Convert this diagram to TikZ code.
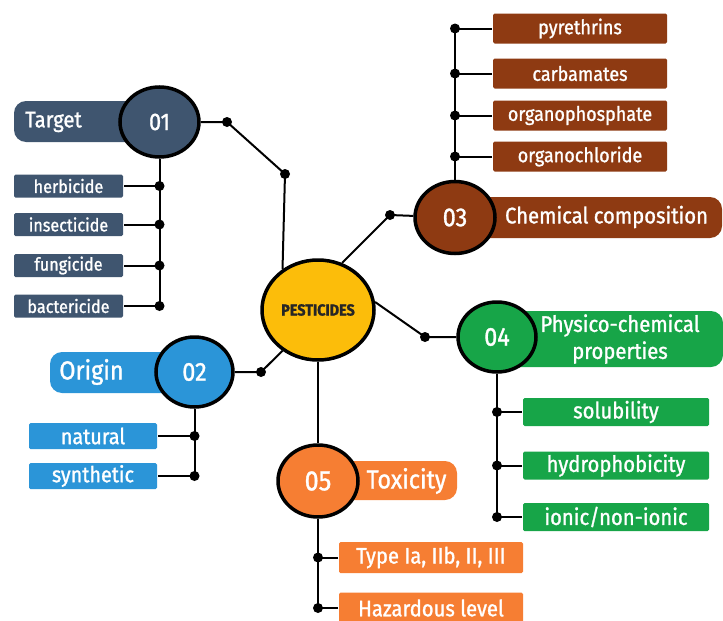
\documentclass[tikz,border=0pt]{standalone}
\usepackage{fontspec}
\setmainfont{Fira Sans}[FakeStretch=0.9, FakeBold=1.2]
\usetikzlibrary{
  shapes.geometric
  , calc
}

\definecolor{slate}{HTML}{3F556F}
\definecolor{skyblue}{HTML}{2B95D8}
\definecolor{rust}{HTML}{8E3A12}
\definecolor{leaf}{HTML}{17A548}
\definecolor{tangerine}{HTML}{F67E33}
\definecolor{gold}{HTML}{FCBD0A}

\begin{document}
\begin{tikzpicture}[
    x=1pt, y=-1pt,
    line width=2pt,
    hub/.style={ellipse, draw=black, line width=3.5pt, inner sep=0pt,
      text=white, font=\fontsize{26}{26}\selectfont},
    tag/.style={rectangle, rounded corners=12pt, inner sep=0pt},
    tag text/.style={text=white, font=\fontsize{22.5}{27}\selectfont, align=center},
    item box/.style={rectangle, rounded corners=1.5pt, inner sep=0pt,
      text=white, font=\fontsize{18}{18}\selectfont}
  ]
  \newcommand\hangItem[5]{
    \node [#2] (#1) at (#3) {#4};
    \coordinate (#1_dot) at (#5 |- #1);
    \draw (#1) -- (#1_dot);
    \fill (#1_dot) circle (5);
  };

  \useasboundingbox (0,0) rectangle (723,621);

  \tikzstyle{target item}=[item box, fill=slate, minimum width=109pt, minimum height=23pt]
  \tikzstyle{origin item}=[item box, fill=skyblue, minimum width=128pt, minimum height=26pt,
    font=\fontsize{22}{22}\selectfont]
  \tikzstyle{chem item}=[item box, fill=rust, minimum width=174pt, minimum height=30pt,
    font=\fontsize{20}{20}\selectfont]
  \tikzstyle{phys item}=[item box, fill=leaf, minimum width=186pt, minimum height=28pt,
    font=\fontsize{22.5}{22.5}\selectfont]
  \tikzstyle{tox item}=[item box, fill=tangerine, minimum width=184pt, minimum height=31pt,
    font=\fontsize{22.5}{22.5}\selectfont]

  % tags behind the numbered discs
  \node [tag, fill=slate, minimum width=146pt, minimum height=41pt] (target_tag) at (87,121.5) {};
  \node [tag, fill=skyblue, minimum width=145pt, minimum height=41pt] (origin_tag) at (122.5,372.5) {};
  \node [tag, fill=rust, minimum width=267pt, minimum height=41pt] (chem_tag) at (588.5,217.5) {};
  \node [tag, fill=leaf, minimum width=227pt, minimum height=56pt] (phys_tag) at (609.5,339) {};
  \node [tag, fill=tangerine, minimum width=140pt, minimum height=39pt] (tox_tag) at (387,480.5) {};

  \node [tag text] (target_text) at (53.5,122) {Target};
  \node [tag text, font=\fontsize{26}{26}\selectfont] (origin_text) at (91.5,372) {Origin};
  \node [tag text] (chem_text) at (606.5,217) {Chemical composition};
  \node [tag text] (phys_text) at (620,339) {Physico-chemical\\properties};
  \node [tag text, font=\fontsize{26}{26}\selectfont] (tox_text) at (406.5,481) {Toxicity};

  % discs
  \node [hub, fill=gold, minimum width=112pt, minimum height=100pt, text=black!85,
    font=\bfseries\fontsize{16}{16}\selectfont] (pest) at (318,310) {PESTICIDES};
  \node [hub, fill=slate, minimum width=79pt, minimum height=70pt,
    font=\fontsize{24}{24}\selectfont] (target_num) at (159.5,122) {01};
  \node [hub, fill=skyblue, minimum width=77pt, minimum height=70pt] (origin_num) at (194.5,372) {02};
  \node [hub, fill=rust, minimum width=80pt, minimum height=72pt] (chem_num) at (455,217.5) {03};
  \node [hub, fill=leaf, minimum width=78pt, minimum height=70pt] (phys_num) at (497,337) {04};
  \node [hub, fill=tangerine, minimum width=80pt, minimum height=72pt,
    font=\fontsize{28}{28}\selectfont] (tox_num) at (318,481) {05};

  % links to the centre
  \coordinate (target_dot) at (227,122);
  \coordinate (target_knee) at (285,174);
  \coordinate (origin_dot) at (261,372);
  \coordinate (chem_dot) at (390,215);
  \coordinate (phys_dot) at (425,337);

  \draw (target_num) -- (target_dot) -- (target_knee) -- (pest.131);
  \draw (origin_num) -- (origin_dot) -- (pest.229);
  \draw (pest.63) -- (chem_dot) -- (chem_num);
  \draw (pest.8) -- (phys_dot) -- (phys_num);
  \draw (pest) -- (tox_num);
  \foreach \d in {target_dot, target_knee, origin_dot, chem_dot, phys_dot}
    \fill (\d) circle (5);

  % 01
  \hangItem{herbicide}{target item}{68.5,186}{herbicide}{target_num}
  \hangItem{insecticide}{target item}{68.5,224.5}{insecticide}{target_num}
  \hangItem{fungicide}{target item}{68.5,265.5}{fungicide}{target_num}
  \hangItem{bactericide}{target item}{68.5,306}{bactericide}{target_num}
  \draw (target_num) -- (bactericide_dot);

  % 02
  \hangItem{natural}{origin item}{93,436}{natural}{origin_num}
  \hangItem{synthetic}{origin item}{93,476}{synthetic}{origin_num}
  \draw (origin_num) -- (synthetic_dot);

  % 03
  \hangItem{pyrethrins}{chem item}{580,28.5}{pyrethrins}{chem_num}
  \hangItem{carbamates}{chem item}{580,73.5}{carbamates}{chem_num}
  \hangItem{organophosphate}{chem item}{580,115.5}{organophosphate}{chem_num}
  \hangItem{organochloride}{chem item}{580,156.5}{organochloride}{chem_num}
  \draw (chem_num) -- (pyrethrins_dot);

  % 04
  \hangItem{solubility}{phys item}{616,412}{solubility}{phys_num}
  \hangItem{hydrophobicity}{phys item}{616,465.5}{hydrophobicity}{phys_num}
  \hangItem{ionic}{phys item}{616,517}{ionic/non-ionic}{phys_num}
  \draw (phys_num) -- (ionic_dot);

  % 05
  \hangItem{type_class}{tox item}{431,557.5}{Type Ia, IIb, II, III}{tox_num}
  \hangItem{hazard}{tox item}{431,608}{Hazardous level}{tox_num}
  \draw (tox_num) -- (hazard_dot);

\end{tikzpicture}
\end{document}
